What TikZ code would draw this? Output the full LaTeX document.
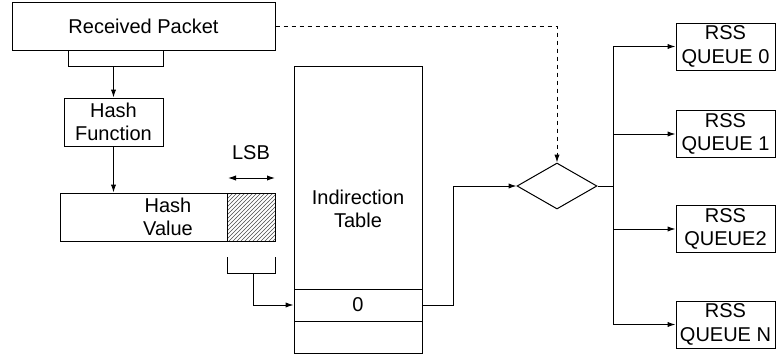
\documentclass[tikz,border=0pt]{standalone}
\usepackage{fontspec}
\setmainfont{Liberation Sans}
\usetikzlibrary{shapes.geometric,arrows.meta,patterns}
\newcommand{\pxu}{0.75pt}
\begin{document}
\begin{tikzpicture}[x=0.75pt,y=-0.75pt,
  every node/.style={font=\fontsize{15}{17.5}\selectfont},
  box/.style={draw, line width=0.75pt, inner sep=0pt, align=center},
  txt/.style={inner sep=0pt, align=center},
  line/.style={line width=0.75pt},
  arr/.style={line width=0.75pt, -{Latex[length=6pt,width=4pt]}},
  darr/.style={line width=0.75pt, {Latex[length=6pt,width=4pt]}-{Latex[length=6pt,width=4pt]}}]
\useasboundingbox (0,0) rectangle (776,354);
% received packet
\node (rp) [box, minimum width=263*\pxu, minimum height=48*\pxu] at (143.5,26) {Received Packet};
\node (tab) [box, minimum width=95*\pxu, minimum height=16*\pxu] at (115.5,58) {};
\node (hf) [box, minimum width=99*\pxu, minimum height=48*\pxu] at (113.5,122) {Hash\\Function};
\node (hv) [box, minimum width=167*\pxu, minimum height=48*\pxu] at (143.5,217) {};
\node (hvt) [txt] at (168,217) {Hash\\Value};
\node (lsbbox) [box, pattern=north east lines, pattern color=black!70, minimum width=48*\pxu, minimum height=48*\pxu] at (251,217) {};
\node (lsbt) [txt] at (251,153) {LSB};
\coordinate (la) at (228,178);
\coordinate (lb) at (275,178);
\draw[darr] (la) -- (lb);
\draw[arr] (hf.north |- tab.south) -- (hf.north);
\draw[arr] (hf.south) -- (hf.south |- hv.north);
% bracket
\coordinate (b1) at (227,257);
\coordinate (b2) at (275,257);
\coordinate (bm) at (253,273);
\draw[line] (b1) -- (227,273) -- (275,273) -- (b2);
% indirection table
\node (it) [box, minimum width=128*\pxu, minimum height=287*\pxu] at (358,209.5) {};
\node (itt) [txt] at (358,209) {Indirection\\Table};
\node (r0) [box, minimum width=128*\pxu, minimum height=32*\pxu] at (358,305) {0};
\draw[arr] (bm) |- (r0.west);
% diamond
\node (dm) [draw, diamond, line width=0.75pt, inner sep=0pt, minimum width=80*\pxu, minimum height=46*\pxu] at (557,186) {};
\coordinate (j1) at (453,305);
\draw[arr] (r0.east) -- (j1) |- (dm.west);
\coordinate (dj) at (557,26);
\draw[line, dashed, -{Latex[length=6pt,width=4pt]}] (rp.east) -- (dj) -- (dm.north);
% queues
\node (q0) [box, minimum width=99*\pxu, minimum height=47*\pxu] at (725.5,46.5) {RSS\\QUEUE 0};
\node (q1) [box, minimum width=99*\pxu, minimum height=47*\pxu] at (725.5,134) {RSS\\QUEUE 1};
\node (q2) [box, minimum width=99*\pxu, minimum height=47*\pxu] at (725.5,229) {RSS\\QUEUE2};
\node (qn) [box, minimum width=99*\pxu, minimum height=47*\pxu] at (725.5,324.5) {RSS\\QUEUE N};
\coordinate (sp) at (613,186);
\draw[line] (dm.east) -- (sp);
\draw[arr] (sp) |- (q0.west);
\draw[arr] (sp) |- (q1.west);
\draw[arr] (sp) |- (q2.west);
\draw[arr] (sp) |- (qn.west);
\end{tikzpicture}
\end{document}
